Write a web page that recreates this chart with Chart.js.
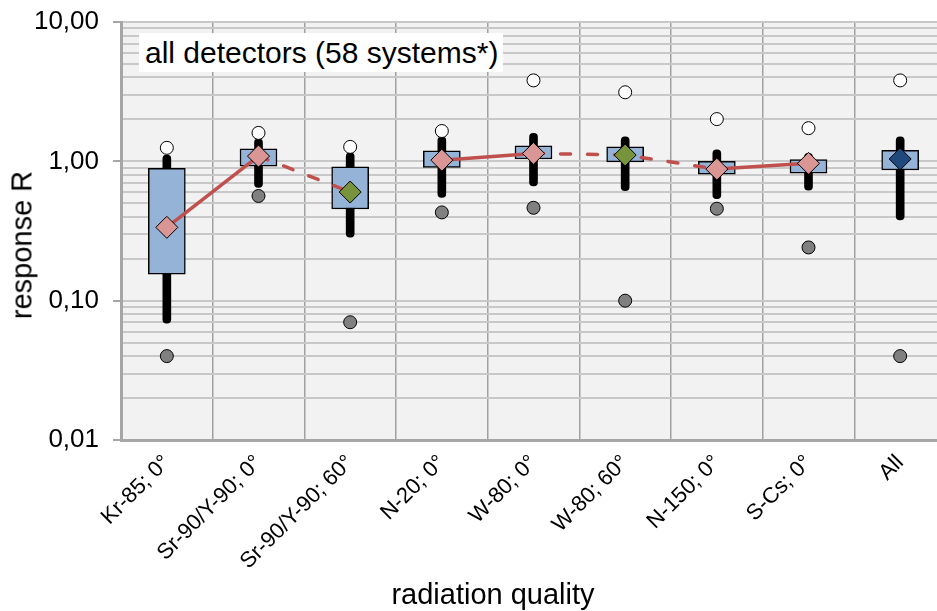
<!DOCTYPE html>
<html>
<head>
<meta charset="utf-8">
<script src="https://cdn.jsdelivr.net/npm/chart.js@4.4.1/dist/chart.umd.min.js"></script>
<style>
  html, body { margin: 0; padding: 0; background: #fff; }
  #wrap { position: relative; width: 937px; height: 611px; overflow: hidden; font-family: "Liberation Sans", Arial, sans-serif; color: #000; }
  #note {
    position: absolute; left: 139px; top: 33px; width: 364px; height: 39px;
    background: #fff; font-size: 30px; line-height: 39px; padding-left: 6px;
    box-sizing: border-box; white-space: nowrap;
  }
  .axis-title { position: absolute; font-size: 29px; line-height: 29px; white-space: nowrap; }
  #xTitle { left: 493px; top: 580px; transform: translateX(-50%); }
  #yTitle { left: 22px; top: 245px; transform: translate(-50%, -50%) rotate(-90deg); }
</style>
</head>
<body>
<div id="wrap">
  <canvas id="boxChart" width="958" height="611"></canvas>
  <div id="note">all detectors (58 systems*)</div>
  <div class="axis-title" id="xTitle">radiation quality</div>
  <div class="axis-title" id="yTitle">response R</div>
</div>
<script>
// Kategorien und Kennwerte der Ansprechwerte R
const categories = ['Kr-85; 0°', 'Sr-90/Y-90; 0°', 'Sr-90/Y-90; 60°', 'N-20; 0°', 'W-80; 0°', 'W-80; 60°', 'N-150; 0°', 'S-Cs; 0°', 'All'];
const maxValues = [1.25, 1.60, 1.27, 1.65, 3.81, 3.13, 2.01, 1.73, 3.81];
const minValues = [0.040, 0.564, 0.070, 0.43, 0.464, 0.100, 0.457, 0.241, 0.040];
const whiskerHigh = [1.11, 1.45, 1.15, 1.50, 1.59, 1.50, 1.21, 1.14, 1.50];
const whiskerLow = [0.069, 0.65, 0.285, 0.55, 0.665, 0.615, 0.54, 0.62, 0.379];
const boxHigh = [0.89, 1.23, 0.915, 1.19, 1.29, 1.27, 1.00, 1.03, 1.20];
const boxLow = [0.155, 0.925, 0.455, 0.905, 1.04, 0.99, 0.81, 0.824, 0.866];
const meanValues = [0.336, 1.09, 0.602, 1.02, 1.14, 1.11, 0.88, 0.967, 1.04];
// Verbindungslinie: Art jedes Abschnitts (von Punkt i nach i+1)
const segmentKinds = ['solid', 'dashed', 'none', 'solid', 'dashed', 'dashed', 'solid', 'none'];
const yTickValues = [0.01, 0.1, 1, 10];

const FONT = '"Liberation Sans", Arial, sans-serif';
const diamondColors = categories.map(c =>
  c === 'All' ? '#1F497D' : (c.includes('60°') ? '#77933C' : '#DA9694'));

// alle Gitterlinien 1..9 pro Dekade
const logGrid = [];
[0.01, 0.1, 1].forEach(d => { for (let k = 1; k < 10; k++) logGrid.push(+(k * d).toPrecision(3)); });
logGrid.push(10);

const plotBackground = {
  id: 'plotBackground',
  beforeDraw(chart) {
    const { ctx, chartArea: a } = chart;
    ctx.save();
    ctx.fillStyle = '#f2f2f2';
    ctx.fillRect(a.left, a.top, a.right - a.left, a.bottom - a.top);
    ctx.restore();
  }
};

const isDecade = v => yTickValues.some(t => Math.abs(t - v) < 1e-9);

new Chart(document.getElementById('boxChart').getContext('2d'), {
  type: 'bar',
  data: {
    labels: categories,
    datasets: [
      {
        type: 'line',
        label: 'Mittelwert',
        data: meanValues,
        borderColor: '#C0504D',
        borderWidth: 3.5,
        borderCapStyle: 'round',
        pointStyle: 'rectRot',
        pointRadius: 11,
        pointBackgroundColor: diamondColors,
        pointBorderColor: '#000',
        pointBorderWidth: 1,
        segment: {
          borderDash: c => segmentKinds[c.p0DataIndex] === 'dashed' ? [10, 17] : undefined,
          borderColor: c => segmentKinds[c.p0DataIndex] === 'none' ? 'rgba(0,0,0,0)' : '#C0504D'
        },
        order: 0
      },
      {
        type: 'line',
        label: 'Maximum',
        data: maxValues,
        showLine: false,
        pointRadius: 6.5,
        pointBackgroundColor: '#fff',
        pointBorderColor: '#000',
        pointBorderWidth: 1,
        order: 1
      },
      {
        type: 'line',
        label: 'Minimum',
        data: minValues,
        showLine: false,
        pointRadius: 6.5,
        pointBackgroundColor: '#808080',
        pointBorderColor: '#000',
        pointBorderWidth: 1,
        order: 2
      },
      {
        label: 'Quartile',
        data: categories.map((c, i) => [boxLow[i], boxHigh[i]]),
        backgroundColor: '#95B3D7',
        borderColor: '#000',
        borderWidth: 1.5,
        borderSkipped: false,
        barThickness: 37,
        grouped: false,
        order: 3
      },
      {
        label: 'Bereich',
        data: categories.map((c, i) => [whiskerLow[i], whiskerHigh[i]]),
        backgroundColor: '#000',
        borderWidth: 0,
        borderRadius: 4,
        borderSkipped: false,
        barThickness: 8,
        grouped: false,
        order: 4
      }
    ]
  },
  options: {
    responsive: false,
    animation: false,
    events: [],
    layout: { padding: { top: 22, left: 0, right: 0, bottom: 0 } },
    plugins: { legend: { display: false }, tooltip: { enabled: false } },
    scales: {
      x: {
        offset: true,
        grid: { offset: true, color: '#a0a0a0', lineWidth: 1.5, drawTicks: false },
        border: { color: '#a6a6a6', width: 3 },
        ticks: {
          minRotation: 45, maxRotation: 45, autoSkip: false, padding: 10,
          color: '#000', font: { family: FONT, size: 22 }
        },
        afterFit: s => { s.height = 171; }
      },
      y: {
        type: 'logarithmic',
        min: 0.01,
        max: 10,
        afterBuildTicks: s => { s.ticks = logGrid.map(v => ({ value: v })); },
        grid: {
          color: '#c8c8c8', lineWidth: 2, tickLength: 8,
          tickColor: c => isDecade(c.tick.value) ? '#a6a6a6' : 'rgba(0,0,0,0)'
        },
        border: { color: '#a6a6a6', width: 3 },
        ticks: {
          autoSkip: false, padding: 14, color: '#000',
          font: { family: FONT, size: 26 },
          callback: v => isDecade(v) ? Number(v).toFixed(2).replace('.', ',') : ''
        },
        afterFit: s => {
          s.width = 121;
          s.paddingTop = 0;
          s.paddingBottom = 0;
        }
      }
    }
  },
  plugins: [plotBackground]
});
</script>
</body>
</html>
